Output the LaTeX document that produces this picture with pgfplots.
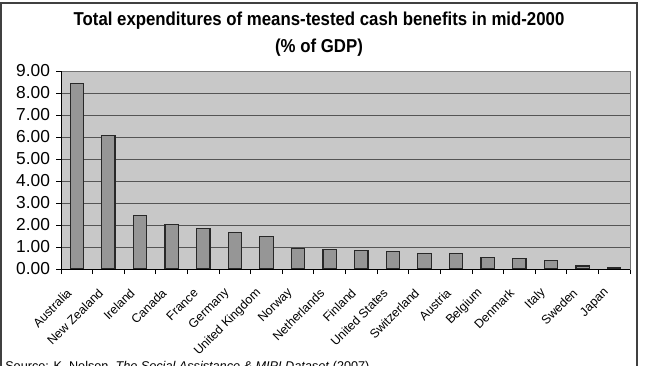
\documentclass[border=0pt]{standalone}
\usepackage{fontspec}
\setmainfont{Liberation Sans}
\usepackage{graphicx}
\usepackage{pgfplots}
\pgfplotsset{compat=1.18}
\definecolor{plotbg}{RGB}{200,200,200}
\definecolor{barfill}{RGB}{150,150,150}
\definecolor{bardraw}{RGB}{40,40,40}
\definecolor{gridc}{RGB}{85,85,85}
\begin{document}
\begin{tikzpicture}
\useasboundingbox (0,0) rectangle (483.75pt,-273.75pt);
\draw[line width=0.8pt,black!75] (0.75pt,-290pt) -- (0.75pt,-2.25pt) -- (477.75pt,-2.25pt) -- (477.75pt,-290pt);
\node[font=\bfseries\fontsize{14}{16}\selectfont] at (239.25pt,-15.5pt) {\scalebox{0.9}[1]{Total expenditures of means-tested cash benefits in mid-2000}};
\node[font=\bfseries\fontsize{14}{16}\selectfont] at (239.25pt,-35.5pt) {\scalebox{0.9}[1]{(\% of GDP)}};
\node[anchor=base west,font=\fontsize{9.5}{11}\selectfont,inner sep=0pt] at (3.75pt,-277.5pt) {Source: K. Nelson, \textit{The Social Assistance \& MIPI Dataset} (2007).};
\begin{axis}[
  at={(45.75pt,-201.75pt)}, anchor=south west,
  scale only axis, width=426.75pt, height=148.5pt,
  ymin=0, ymax=9, xmin=-0.5, xmax=17.5,
  ybar, bar width=10pt,
  axis background/.style={fill=plotbg},
  axis line style={black!55, line width=0.6pt},
  ymajorgrids, grid style={gridc, line width=0.6pt},
  ytick={0,1,...,9},
  /pgf/number format/fixed, /pgf/number format/fixed zerofill, /pgf/number format/precision=2, /pgf/number format/assume math mode=true,
  yticklabel style={font=\fontsize{13}{14}\selectfont, xshift=-1pt},
  xtick={0,1,...,17},
  xticklabels={Australia,New Zealand,Ireland,Canada,France,Germany,United Kingdom,Norway,Netherlands,Finland,United States,Switzerland,Austria,Belgium,Denmark,Italy,Sweden,Japan},
  x tick label style={rotate=45, anchor=east, font=\fontsize{9.3}{10}\selectfont, xshift=-9.5pt, yshift=-5pt},
  minor xtick={-0.5,0.5,...,17.5},
  major x tick style={draw=none},
  minor x tick style={black, line width=0.6pt},
  y tick style={black, line width=0.6pt},
  major tick length=3.75pt, minor tick length=3.75pt,
  tick align=outside, tick pos=left,
]
\addplot[fill=barfill, draw=bardraw, line width=0.9pt] coordinates {
(0,8.45) (1,6.07) (2,2.42) (3,2.03) (4,1.83) (5,1.66) (6,1.46) (7,0.92) (8,0.90) (9,0.83) (10,0.80) (11,0.70) (12,0.69) (13,0.53) (14,0.47) (15,0.40) (16,0.14) (17,0.08)
};
\draw[black, line width=0.7pt] (rel axis cs:0,1) -- (rel axis cs:0,0) -- (rel axis cs:1,0);
\end{axis}
\end{tikzpicture}
\end{document}
